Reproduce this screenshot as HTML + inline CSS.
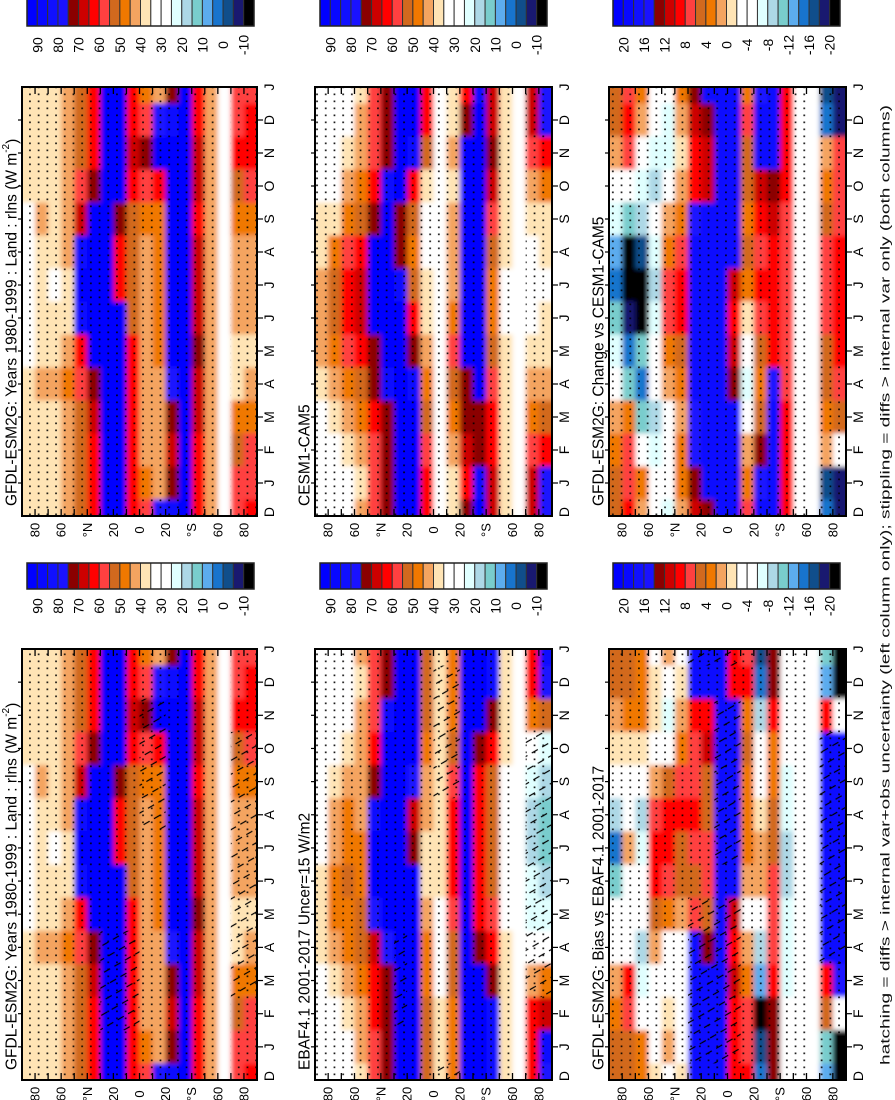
<!DOCTYPE html>
<html><head><meta charset="utf-8"><style>
html,body{margin:0;padding:0;background:#fff;}
svg{display:block;font-family:"Liberation Sans",sans-serif;}
</style></head><body>
<svg id="fig" width="895" height="1100" viewBox="0 0 895 1100" xmlns="http://www.w3.org/2000/svg">
<defs>
<pattern id="stip" width="8.7" height="7" patternUnits="userSpaceOnUse"><rect x="3" y="2.5" width="1.7" height="1.7" fill="#000"/></pattern>
<pattern id="hatch" width="12" height="12" patternUnits="userSpaceOnUse" patternTransform="rotate(-30)"><line x1="0" y1="6" x2="7" y2="6" stroke="#000" stroke-width="1.2"/></pattern>
<filter id="soft" x="-5%" y="-5%" width="110%" height="110%">
<feGaussianBlur stdDeviation="2.5"/>
<feComponentTransfer><feFuncA type="linear" slope="20" intercept="0"/></feComponentTransfer>
</filter>
</defs>
<g id="root"></g>
</svg>
<script>
// ---- data (W m-2); rows = latitude bands 85N..85S, values Jan..Dec ----
const months = ["J","F","M","A","M","J","J","A","S","O","N","D"];
const latLabels = ["80","60","°N","20","0","20","°S","60","80"];
const absTicks = ["90","80","70","60","50","40","30","20","10","0","-10"];
const diffTicks = ["20","16","12","8","4","0","-4","-8","-12","-16","-20"];

const gfdl = [
[37,37,36,38,34,32,32,32,34,36,37,37],
[39,39,40,42,40,37,37,39,41,39,39,39],
[37,38,40,42,40,36,35,36,38,37,36,37],
[43,43,45,48,44,40,40,42,44,43,43,43],
[53,53,55,57,65,88,92,90,70,57,53,53],
[61,63,69,75,95,100,100,100,96,75,65,61],
[95,95,100,100,100,100,100,100,100,100,95,95],
[100,100,100,100,100,95,65,63,75,95,100,100],
[63,61,61,63,61,55,51,51,53,65,70,65],
[47,45,45,45,45,45,45,45,50,57,75,57],
[45,43,43,45,47,47,47,47,50,65,92,80],
[75,70,73,80,95,100,100,100,100,100,100,90],
[100,100,100,100,100,100,100,100,100,100,100,100],
[65,65,67,70,75,70,67,67,65,67,67,65],
[44,44,44,44,44,44,44,44,44,44,44,44],
null,
[57,55,47,40,40,43,45,45,47,55,61,59],
[59,57,50,41,39,41,43,43,47,57,65,61]];

const cesm = [
[33,33,35,40,43,43,41,39,37,35,33,33],
[31,31,37,43,50,53,51,47,40,35,31,31],
[33,37,43,47,57,63,61,57,47,41,37,35],
[39,43,47,55,63,70,70,65,55,47,43,41],
[57,57,63,71,73,92,95,92,75,61,57,57],
[71,72,73,90,100,100,100,100,100,90,75,72],
[100,100,100,100,100,100,90,72,74,100,100,100],
[100,100,98,90,75,63,55,50,53,65,90,100],
[63,57,55,50,43,40,37,35,35,40,55,63],
[35,35,35,33,33,33,35,35,35,33,31,35],
[40,43,50,55,60,50,43,43,41,39,43,39],
[65,67,73,75,95,100,100,100,100,100,95,73],
[90,75,73,92,100,100,100,100,100,100,100,95],
[67,65,61,57,53,50,50,53,57,67,73,70],
[40,40,40,38,36,34,34,36,38,40,40,40],
null,
[70,59,50,43,37,35,33,35,37,45,57,70],
[77,61,53,45,39,37,35,37,39,47,61,80]];

const ebaf = [
[31,31,33,37,37,37,35,33,31,31,31,31],
[33,35,39,43,47,47,45,41,37,33,31,31],
[35,39,43,50,50,51,49,47,41,37,35,33],
[43,45,47,53,55,50,47,45,45,43,41,40],
[59,61,65,70,80,92,95,90,75,65,59,57],
[73,71,73,80,100,100,100,100,100,95,83,75],
[100,100,100,100,100,100,100,100,100,100,100,100],
[100,100,100,100,100,95,75,70,80,100,100,100],
[55,53,50,47,43,39,40,41,45,50,53,55],
[37,37,35,31,33,37,40,39,37,37,39,37],
[50,50,53,55,57,61,63,63,60,55,50,50],
[100,100,100,100,100,100,100,100,100,100,100,100],
[100,100,95,75,65,63,61,61,63,75,95,100],
[90,88,75,65,57,55,53,53,55,61,75,90],
[40,40,38,36,34,32,32,32,34,36,40,40],
null,
[65,61,45,31,25,21,19,20,23,27,50,65],
[90,70,50,29,21,17,15,15,19,25,55,80]];

const change = [
[6,4,2,-2,-6,-10,-14,-12,-6,-2,2,6],
[8,8,4,-10,-14,-18,-22,-20,-10,-4,8,9],
[4,-4,-10,-14,-10,-22,-24,-16,-8,-6,-2,2],
[-2,-6,-8,-4,-2,-6,-8,-6,-4,-8,-6,-4],
[-4,-4,-2,2,4,8,8,4,2,-2,-6,-6],
[4,4,2,4,6,9,10,8,4,2,0,2],
[14,16,16,20,20,20,20,20,16,10,10,12],
[20,20,20,20,20,20,20,20,20,12,11,13],
[20,20,20,20,20,20,20,20,20,20,20,20],
[20,20,18,14,12,10,12,20,20,20,20,20],
[4,2,-2,-6,-4,0,4,6,4,6,6,8],
[16,14,6,4,6,8,9,8,10,12,20,18],
[20,20,18,16,10,10,10,10,12,14,20,20],
[9,9,9,8,8,8,8,8,8,9,9,9],
[-3,-3,-3,-3,-3,-3,-3,-3,-3,-3,-3,-3],
null,
[-16,2,4,6,6,8,8,8,6,4,2,-14],
[-18,-4,6,8,10,10,10,10,8,8,8,-18]];

const bias = [
[6,4,2,-2,-4,-10,-14,-8,-4,0,2,6],
[6,8,10,-2,-4,-4,2,-2,-4,0,4,6],
[4,-4,-6,-8,-4,-2,-6,-8,-4,0,4,4],
[-4,-4,-2,2,6,9,10,8,2,-2,0,0],
[2,0,-2,-4,4,8,10,10,6,-4,-6,-2],
[-2,-2,-4,-2,2,6,6,10,8,4,2,0],
[20,20,20,20,8,6,8,10,8,8,10,20],
[20,20,20,14,6,8,8,6,6,12,10,20],
[20,20,20,20,20,20,20,20,20,20,20,20],
[10,10,12,10,12,20,20,20,20,20,20,10],
[8,8,4,2,-2,2,4,4,4,6,4,10],
[-16,-22,-12,-8,-4,2,2,0,-4,-2,-8,-14],
[14,14,10,8,8,8,6,6,4,4,10,14],
[-4,-4,-6,-6,-6,-8,-8,-6,-6,-4,-4,-4],
[-3,-3,-3,-3,-3,-3,-3,-3,-3,-3,-3,-3],
null,
[-10,6,10,20,20,20,20,20,20,20,10,-12],
[-20,-4,16,20,20,20,20,20,20,20,-4,-22]];

// hatching: [latBand, firstMonth, lastMonth] (0=Jan)
const hatchGfdl = [[6,1,3],[7,1,3],[8,1,3],[9,7,10],[10,7,10],[16,2,9],[17,2,9]];
const hatchEbaf = [[6,1,3],[9,8,11],[10,8,11],[16,2,9],[17,2,9]];
const hatchBias = [[6,0,4],[7,0,4],[8,0,4],[9,0,4],[8,6,10],[9,6,10],[16,3,9],[17,3,9]];

const palette = ["#0000ff","#0808ff","#1010ff","#1a12ff","#8b0000","#cd0000","#ff0000","#ff4040","#d2691e","#f07800","#f4a460","#ffe4b5","#ffffff","#ffffff","#e0ffff","#add8e6","#79cdcd","#5cacee","#1874cd","#104e8b","#191970","#000000"];

const NS="http://www.w3.org/2000/svg";
const root=document.getElementById('root');
function mk(tag,attrs,parent){const e=document.createElementNS(NS,tag);for(const k in attrs)e.setAttribute(k,attrs[k]);(parent||root).appendChild(e);return e;}
function boxAbs(v){return Math.max(0,Math.min(21,Math.floor((95-v)/5)));}
function boxDiff(v){return Math.max(0,Math.min(21,Math.floor((22-v)/2)));}
function monthOf(i){return ((12-i)%12+12)%12;}
function vtext(x,y,str,size,parent,anchor){
  const t=mk('text',{transform:`translate(${x},${y}) rotate(-90)`,'text-anchor':anchor||'middle','dominant-baseline':'central','font-size':size,fill:'#000'},parent);
  t.textContent=str;return t;
}

const colX=[22,315,609], colW=[235,237,237];
const rowY=[87,649], rowH=[429,431];
const panels=[
 {c:0,r:0,data:gfdl,diff:false,title:"GFDL-ESM2G: Years 1980-1999 : Land : rlns (W m",sup:true,hatch:[] ,name:'panel-gfdl-top'},
 {c:1,r:0,data:cesm,diff:false,title:"CESM1-CAM5",hatch:[],name:'panel-cesm'},
 {c:2,r:0,data:change,diff:true,title:"GFDL-ESM2G: Change vs CESM1-CAM5",hatch:[],name:'panel-change'},
 {c:0,r:1,data:gfdl,diff:false,title:"GFDL-ESM2G: Years 1980-1999 : Land : rlns (W m",sup:true,hatch:hatchGfdl,name:'panel-gfdl-bottom'},
 {c:1,r:1,data:ebaf,diff:false,title:"EBAF4.1 2001-2017 Uncer=15 W/m2",hatch:hatchEbaf,name:'panel-ebaf'},
 {c:2,r:1,data:bias,diff:true,title:"GFDL-ESM2G: Bias vs EBAF4.1 2001-2017",hatch:hatchBias,name:'panel-bias'}
];

panels.forEach((p,pi)=>{
  const x0=colX[p.c], W=colW[p.c], y0=rowY[p.r], H=rowH[p.r];
  const g=mk('g',{});
  
  
  const cid='clip'+pi;
  const cp=mk('clipPath',{id:cid},g); mk('rect',{x:x0,y:y0,width:W,height:H},cp);
  const cells=mk('g',{'clip-path':`url(#${cid})`},g);
  mk('rect',{x:x0,y:y0,width:W,height:H,fill:'#fff'},cells);
  const heat=mk('g',{filter:'url(#soft)'},cells);
  const step=H/13, bw=W/18;
  const latX=lat=>x0+(90-lat)/180*W;
  const rowCenter=i=>y0+i*step;
  for(let b=0;b<18;b++){
    const vals=p.data[b];
    const xa=latX(90-10*b), xb=latX(80-10*b);
    for(let i=0;i<14;i++){
      let fill='#ffffff';
      if(vals){const v=vals[monthOf(i)];const k=p.diff?boxDiff(v):boxAbs(v);fill=palette[k];}
      const ex0=b===0?6:0, ex1=b===17?6:0;
      const r=mk('rect',{x:xa-ex0,y:rowCenter(i)-step/2-(i===0?6:0),width:xb-xa+0.4+ex0+ex1,height:step+0.4+(i===0||i===13?6:0),fill:fill},heat);
      
      
    }
  }
  // stippling
  for(const [a,bnd] of [[0,15],[16,18]]){
    mk('rect',{x:latX(90-10*a),y:y0,width:latX(90-10*bnd)-latX(90-10*a),height:H,fill:'url(#stip)',opacity:0.9},cells);
  }
  // hatching
  p.hatch.forEach(h=>{
    const [b,m0,m1]=h;
    for(let i=0;i<14;i++){
      const m=monthOf(i); if(m<m0||m>m1) continue;
      mk('rect',{x:latX(90-10*b),y:rowCenter(i)-step/2,width:bw,height:step,fill:'url(#hatch)'},cells);
    }
  });
  // frame
  const fr=mk('rect',{x:x0,y:y0,width:W,height:H,fill:'none',stroke:'#000','stroke-width':2},g);
  
  
  // lat ticks
  for(let lat=80;lat>=-80;lat-=10){
    const x=latX(lat);
    mk('line',{x1:x,y1:y0,x2:x,y2:y0+7,stroke:'#000','stroke-width':1.3},g);
    mk('line',{x1:x,y1:y0+H,x2:x,y2:y0+H-7,stroke:'#000','stroke-width':1.3},g);
  }
  latLabels.forEach((s,j)=>{
    const t=vtext(latX(80-20*j),y0+H+14,s,13,g);
    
    
  });
  // month ticks + labels
  for(let i=0;i<14;i++){
    const y=rowCenter(i);
    if(i>0&&i<13){
      mk('line',{x1:x0-4,y1:y,x2:x0,y2:y,stroke:'#000','stroke-width':1.2},g);
      mk('line',{x1:x0+W,y1:y,x2:x0+W+6,y2:y,stroke:'#000','stroke-width':1.2},g);
    }
    const t=vtext(x0+W+12,Math.min(y,y0+H-4),months[monthOf(i)],14,g);
    
    
  }
  // title
  const tt=vtext(x0-10,y0+H-10,p.title,15.5,g,'start');
  if(p.sup){
    const s1=document.createElementNS(NS,'tspan');s1.setAttribute('dy','-6');s1.setAttribute('font-size','10');s1.textContent='-2';tt.appendChild(s1);
    const s2=document.createElementNS(NS,'tspan');s2.setAttribute('dy','6');s2.textContent=')';tt.appendChild(s2);
  }
  
  
});

// colorbars
const cbX=[27,320,613], cbY=[0,563], cbLabY=[45,606];
for(let r=0;r<2;r++)for(let c=0;c<3;c++){
  const g=mk('g',{});
  
  
  const bw=227/22;
  palette.forEach((col,k)=>{
    const rr=mk('rect',{x:cbX[c]+k*bw,y:cbY[r]+ (r===0?-2:0),width:bw,height:r===0?28:26,fill:col,stroke:'#333','stroke-width':1},g);
    
    
  });
  mk('rect',{x:cbX[c],y:cbY[r]+(r===0?-2:0),width:227,height:r===0?28:26,fill:'none',stroke:'#222','stroke-width':1.5},g);
  const labs=c===2?diffTicks:absTicks;
  labs.forEach((s,j)=>{
    const t=vtext(cbX[c]+(1+2*j)*bw,cbLabY[r],s,14,g);
    
    
  });
}

// footnote
const fn=vtext(885,585,"hatching = diffs > internal var+obs uncertainty (left column only); stippling = diffs > internal var only (both columns)",13,root);
fn.setAttribute('textLength','960');
fn.setAttribute('lengthAdjust','spacingAndGlyphs');
fn.setAttribute('fill','#111');


</script>
</body></html>
